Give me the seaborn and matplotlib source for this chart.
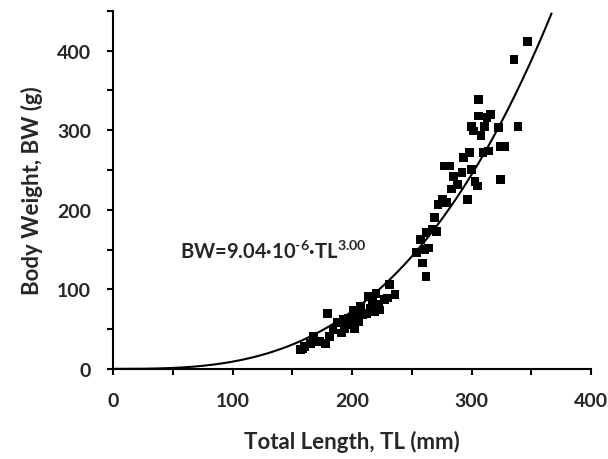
import numpy as np
import pandas as pd
import matplotlib
matplotlib.use('Agg')
import matplotlib.pyplot as plt
import seaborn as sns

# Length-weight data
total_length = [157, 160, 159, 165, 168, 173, 178, 179.5, 181, 184, 188, 191, 192.5, 194, 197,
                199, 201, 202, 204, 205.5, 207, 209, 212, 214, 215, 217, 218.5, 220, 222, 223,
                227, 230, 231.5, 236, 254, 257.5, 259, 261, 262, 262, 264, 267, 269, 270.5, 272,
                275.5, 277, 279, 282, 283.5, 285, 288.5, 292, 293, 296.5, 298, 300, 300, 301.5,
                303, 304.7, 306, 306, 308, 309.6, 311, 313, 316, 314.5, 322.6, 324, 324, 327.5,
                335.6, 339, 347]
body_weight = [24, 28, 25, 32, 41, 34, 32, 70, 41, 49, 58, 45, 62, 51, 64,
               55, 74, 51, 66, 60, 79, 68, 70, 91, 76, 85, 72, 95, 81, 74,
               87, 89, 106, 93, 146, 163, 133, 150, 116, 171, 152, 175, 190, 173, 207,
               213, 255, 209, 255, 226, 242, 232, 247, 266, 213, 272, 305, 251, 299,
               236, 230, 339, 318, 293, 272, 305, 316, 320, 274, 303, 280, 238, 280,
               389, 305, 412]

# fitted model BW = a * TL^b
coef_a = 9.04e-6
coef_b = 3.00

sns.set_style('ticks')
plt.rcParams['font.family'] = ['Lato', 'DejaVu Sans']
plt.rcParams['font.weight'] = 'bold'
plt.rcParams['mathtext.default'] = 'regular'

df = pd.DataFrame({'TL': total_length, 'BW': body_weight})
tl_fit = np.linspace(0, 367, 300)
fit_df = pd.DataFrame({'TL': tl_fit, 'BW': coef_a * tl_fit ** coef_b})

fig = plt.figure(figsize=(6.08, 4.60), dpi=100)
ax = fig.add_axes([0.186, 0.196, 0.786, 0.778])

sns.lineplot(data=fit_df, x='TL', y='BW', ax=ax, color='black', linewidth=1.5)
sns.scatterplot(data=df, x='TL', y='BW', ax=ax, marker='s', s=40, color='black',
                edgecolor='none', linewidth=0, zorder=3)

ax.set_xlim(0, 400)
ax.set_ylim(0, 450)
ax.set_xticks(np.arange(0, 401, 100))
ax.set_xticks(np.arange(0, 401, 50), minor=True)
ax.set_yticks(np.arange(0, 401, 100))
ax.set_yticks(np.arange(0, 451, 50), minor=True)
ax.tick_params(axis='both', which='both', direction='out', length=4, width=1.5,
               color='black', labelsize=14)
ax.tick_params(axis='x', which='major', pad=13)
ax.tick_params(axis='y', which='major', pad=12)
for lab in ax.get_xticklabels() + ax.get_yticklabels():
    lab.set_fontweight('bold')

sns.despine(ax=ax)
for side in ['left', 'bottom']:
    ax.spines[side].set_linewidth(1.5)
    ax.spines[side].set_color('black')

ax.set_xlabel('Total Length, TL (mm)', fontsize=16, fontweight='bold', labelpad=15)
ax.set_ylabel('Body Weight, BW (g)', fontsize=16, fontweight='bold', labelpad=10)

ax.text(56, 148, 'BW=9.04·10$^{\u2010' + '6}$·TL$^{3.00}$', fontsize=14.5, fontweight='bold',
        ha='left', va='center')

fig.savefig('out.png', dpi=100)
